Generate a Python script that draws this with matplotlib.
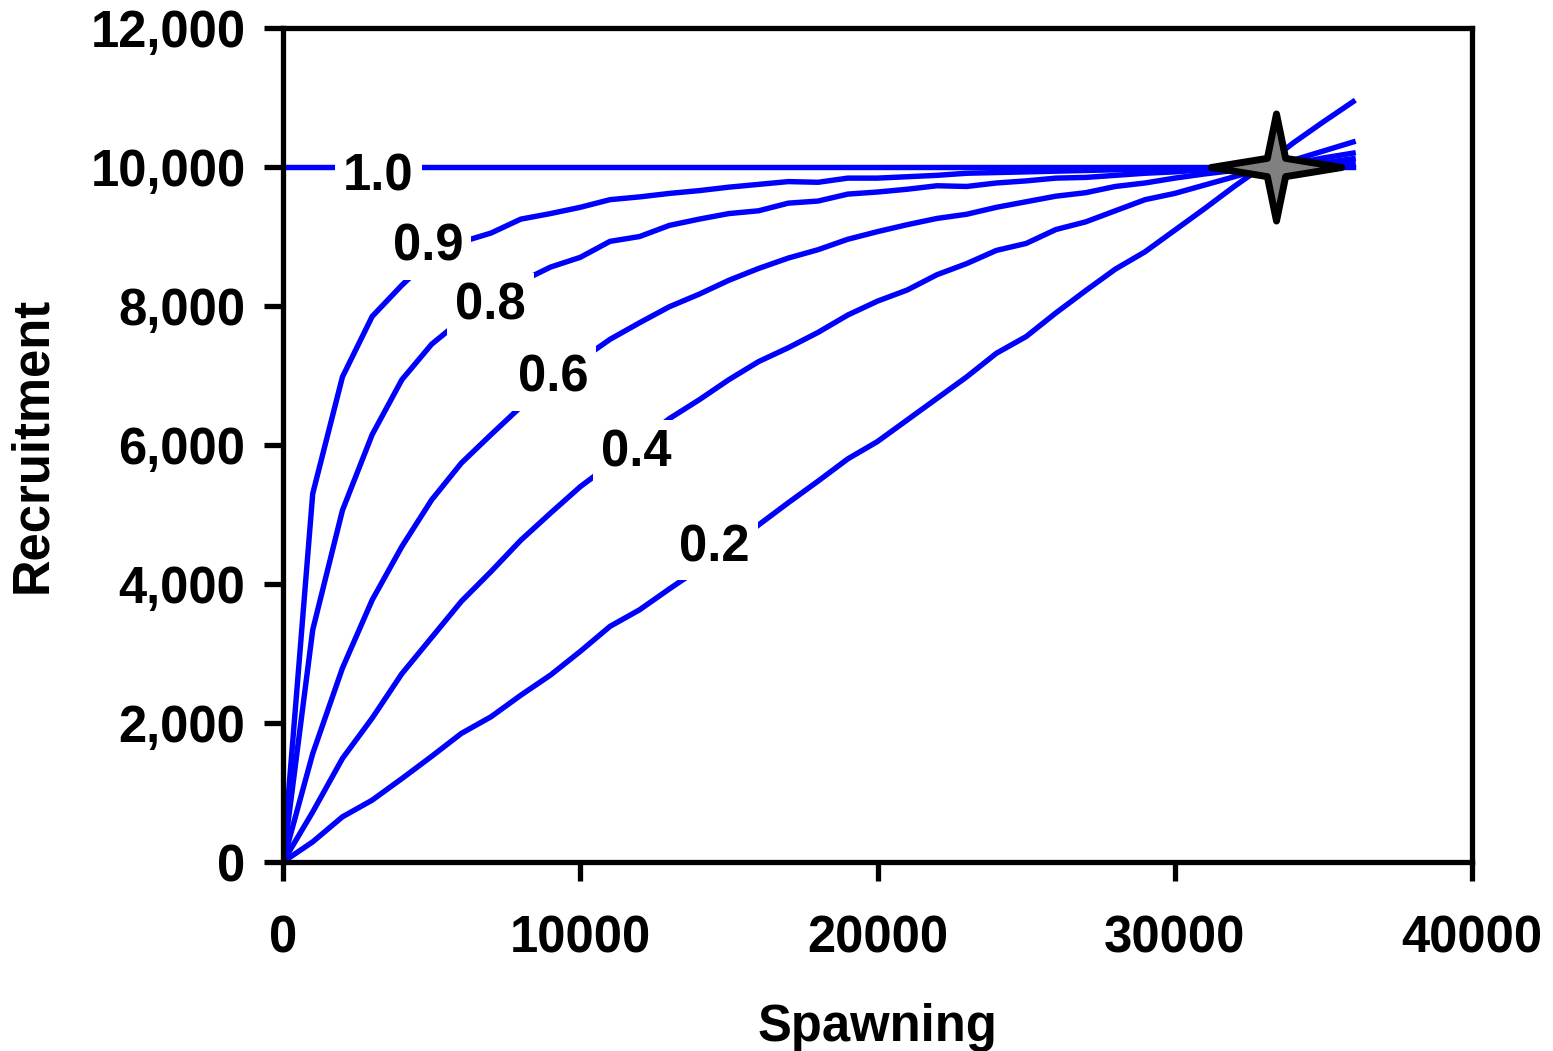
import matplotlib
matplotlib.use("Agg")
import matplotlib.pyplot as plt
from matplotlib.path import Path
from matplotlib.ticker import FuncFormatter, FixedLocator

plt.rcParams["font.family"] = ["Liberation Sans", "DejaVu Sans"]
plt.rcParams["font.weight"] = "bold"

# ---------------- data ----------------
spawning = [0, 1000, 2000, 3000, 4000, 5000, 6000, 7000, 8000, 9000,
            10000, 11000, 12000, 13000, 14000, 15000, 16000, 17000, 18000, 19000,
            20000, 21000, 22000, 23000, 24000, 25000, 26000, 27000, 28000, 29000,
            30000, 31000, 32000, 33000, 34000, 35000, 36000]

rec_h02 = [0, 290, 650, 890, 1200, 1520, 1850, 2090, 2400, 2690,
           3030, 3390, 3630, 3930, 4220, 4520, 4850, 5170, 5480, 5800,
           6050, 6360, 6670, 6980, 7320, 7560, 7900, 8220, 8530, 8780,
           9090, 9400, 9720, 10020, 10350, 10650, 10940]
rec_h04 = [0, 720, 1490, 2070, 2710, 3230, 3750, 4180, 4630, 5020,
           5400, 5720, 6050, 6380, 6650, 6940, 7200, 7400, 7620, 7870,
           8070, 8230, 8450, 8610, 8800, 8900, 9100, 9210, 9370, 9530,
           9620, 9740, 9860, 9980, 10100, 10230, 10360]
rec_h06 = [0, 1560, 2790, 3770, 4540, 5210, 5740, 6150, 6550, 6900,
           7220, 7520, 7760, 7990, 8170, 8370, 8540, 8690, 8810, 8960,
           9070, 9170, 9260, 9320, 9420, 9500, 9580, 9630, 9720, 9770,
           9840, 9900, 9950, 10000, 10050, 10130, 10200]
rec_h08 = [0, 3340, 5060, 6150, 6940, 7450, 7800, 8100, 8350, 8560,
           8700, 8930, 9000, 9160, 9250, 9330, 9370, 9480, 9510, 9610,
           9640, 9680, 9730, 9720, 9770, 9800, 9840, 9850, 9880, 9910,
           9930, 9960, 9980, 10000, 10030, 10060, 10120]
rec_h09 = [0, 5300, 6980, 7850, 8300, 8700, 8920, 9050, 9250, 9330,
           9420, 9530, 9570, 9620, 9660, 9710, 9750, 9790, 9780, 9840,
           9840, 9860, 9880, 9910, 9920, 9930, 9940, 9950, 9960, 9970,
           9980, 9990, 9990, 10000, 10010, 10030, 10050]
rec_h10 = [10000] * 37

series = [rec_h02, rec_h04, rec_h06, rec_h08, rec_h09, rec_h10]
steepness_labels = ["0.2", "0.4", "0.6", "0.8", "0.9", "1.0"]

star_spawning = 33400
star_recruitment = 10000

x_ticks = [0, 10000, 20000, 30000, 40000]
y_ticks = [0, 2000, 4000, 6000, 8000, 10000, 12000]

# ---------------- figure ----------------
W, H = 1553, 1051
FS = 36.5
fig = plt.figure(figsize=(W / 100, H / 100), dpi=100)
ax = fig.add_axes([283 / W, 1 - 862 / H, (1472 - 283) / W, (862 - 28) / H])

for ys in series:
    ax.plot(spawning, ys, color="#0000FF", lw=3.9, solid_joinstyle="miter", zorder=2)

# curve labels (white boxes hide the lines beneath)
label_pos = {"1.0": (3200, 9850), "0.9": (4870, 8850), "0.8": (6990, 8000),
             "0.6": (9080, 6960), "0.4": (11900, 5890), "0.2": (14520, 4520)}
for lab in steepness_labels:
    x, y = label_pos[lab]
    ax.text(x, y, lab, fontsize=FS, fontweight="bold", ha="center", va="center",
            zorder=4, bbox=dict(facecolor="white", edgecolor="none", pad=6))

# star marker
star = Path([(1.0, 0.0), (0.14, 0.14), (0.0, 0.82), (-0.14, 0.14), (-1.0, 0.0),
             (-0.14, -0.14), (0.0, -0.82), (0.14, -0.14), (1.0, 0.0)],
            [Path.MOVETO] + [Path.LINETO] * 7 + [Path.CLOSEPOLY])
ax.plot([star_spawning], [star_recruitment], marker=star, markersize=94,
        markerfacecolor="#808080", markeredgecolor="black", markeredgewidth=5,
        linestyle="none", zorder=5, clip_on=False)

ax.set_xlim(0, 40000)
ax.set_ylim(0, 12000)
ax.xaxis.set_major_locator(FixedLocator(x_ticks))
ax.yaxis.set_major_locator(FixedLocator(y_ticks))
ax.yaxis.set_major_formatter(FuncFormatter(lambda v, p: f"{int(v):,}"))
ax.xaxis.set_major_formatter(FuncFormatter(lambda v, p: f"{int(v)}"))

for s in ax.spines.values():
    s.set_linewidth(3.8)
    s.set_color("black")

ax.tick_params(axis="both", direction="out", length=14, width=3.8,
               labelsize=FS, colors="black")
ax.tick_params(axis="y", pad=13)
ax.tick_params(axis="x", pad=24)
for lbl in ax.get_xticklabels() + ax.get_yticklabels():
    lbl.set_fontweight("bold")

ax.set_xlabel("Spawning", fontsize=FS, fontweight="bold", labelpad=28)
ax.set_ylabel("Recruitment", fontsize=FS, fontweight="bold", labelpad=24)

fig.savefig("out.png", dpi=100)
